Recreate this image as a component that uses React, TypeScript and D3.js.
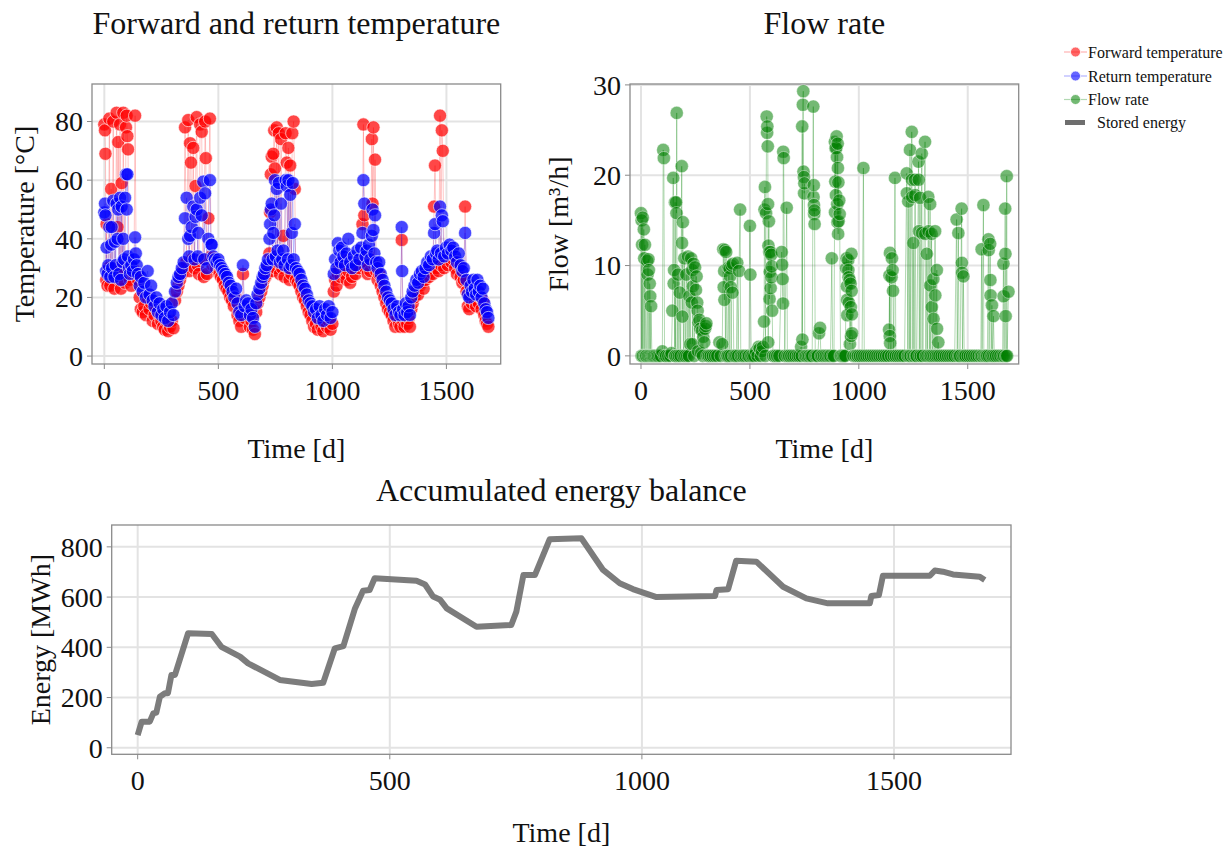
import React from 'react';
import * as d3 from 'd3';

type P = [number, number];

const TIME_TICKS = [0, 500, 1000, 1500];
const TEMP_TICKS = [0, 20, 40, 60, 80];
const FLOW_TICKS = [0, 10, 20, 30];
const ENERGY_TICKS = [0, 200, 400, 600, 800];

const TITLES = ['Forward and return temperature', 'Flow rate', 'Accumulated energy balance'];
const LEGEND = ['Forward temperature', 'Return temperature', 'Flow rate', 'Stored energy'];

const FORWARD: P[] = [
  [0,79],[3,77],[5,69],[8,26],[10,45],[14,24],[18,30],[22,81],[26,24],[30,57],[34,28],[39,80],[44,23],[48,30],[54,83],[58,44],[61,73],[65,26],[69,79],[73,23],[76,59],[80,28],[83,83],[87,30],[91,25],[95,78],[98,82],[101,75],[104,70.5],[108,27],[112,26],[118,24],[125,30],[130,28],[135,82],[140,28],[148,26],[155,20],[160,16],[168,15],[175,17],[182,14],[190,20],[198,16],[205,18],[212,12],[220,14],[228,16],[235,11],[242,14],[250,12],[258,10],[265,9],[272,12],[280,8.5],[288,10],[296,12],[303,9.5],[310,19],[318,22],[325,24],[332,26],[340,28],[348,30],[354,78],[360,32],[368,80.5],[372,29],[376,72.6],[380,66],[384,33],[390,71],[395,30],[400,58],[405,81.5],[410,31],[415,28],[420,79],[427,76.5],[432,33],[436,27],[442,80],[445,67.5],[450,28],[456,47],[463,81],[468,34],[475,31],[482,32],[490,30],[498,31],[505,28],[512,27],[520,26],[528,24],[536,23],[544,22],[552,20],[560,19],[568,17],[576,20],[584,14],[592,12],[600,10],[608,28],[615,13],[622,15],[630,14],[638,10],[645,12],[652,9],[660,7.5],[666,15],[672,18],[680,20],[688,22],[694,24],[700,26],[706,27],[712,28],[718,30],[724,35],[727,49],[730,62],[734,68],[738,29],[741,69],[745,77],[748,64],[752,30],[756,78],[760,32],[765,76],[770,28],[775,74],[780,30],[785,41],[790,27],[795,76],[800,66],[805,30],[807,71],[812,26],[815,65],[820,28],[824,76],[830,80],[835,57],[840,26],[848,25],[856,24],[864,22],[872,20],[880,19],[888,17],[896,15],[904,14],[912,12],[920,10],[928,11],[936,9],[944,12],[952,10],[960,8.5],[968,11],[976,10],[984,12],[992,9],[1000,11],[1006,22],[1012,26],[1018,24],[1024,28],[1030,30],[1036,27],[1042,33],[1048,30],[1055,28],[1062,26],[1070,29],[1078,25],[1086,27],[1094,30],[1102,28],[1110,32],[1118,30],[1126,33],[1132,45],[1136,79],[1140,48],[1145,30],[1150,32],[1155,28],[1160,34],[1166,29],[1173,74],[1176,52],[1180,78],[1184,31],[1187,67],[1192,29],[1198,26],[1205,28],[1212,24],[1220,22],[1228,20],[1236,18],[1244,16],[1252,15],[1260,14],[1268,12],[1276,10],[1284,13],[1292,11],[1298,10],[1304,39.6],[1310,12],[1316,10],[1322,14],[1328,11],[1334,13],[1340,10],[1346,16],[1352,18],[1360,20],[1368,22],[1376,21],[1384,24],[1392,25],[1400,23],[1408,26],[1416,28],[1424,27],[1432,30],[1440,28],[1446,51],[1450,65],[1455,30],[1460,32],[1466,29],[1472,82],[1476,31],[1480,77],[1484,70],[1490,30],[1498,33],[1506,31],[1514,34],[1522,32],[1530,33],[1538,30],[1546,28],[1554,31],[1562,27],[1570,25],[1576,26],[1582,51],[1588,22],[1594,17],[1600,16],[1606,20],[1612,18],[1618,22],[1624,19],[1630,17],[1636,22],[1642,18],[1648,20],[1654,16],[1660,19],[1666,14],[1672,12],[1678,11],[1684,10]
];

const RETURN: P[] = [
  [0,49],[3,52],[5,48],[8,29],[10,37],[14,28],[18,31],[22,44],[26,27],[30,38],[32,44],[34,30],[39,53],[44,27],[47,39],[50,31],[54,52],[58,40],[61,50],[65,28],[69,54],[73,26],[76,51],[80,32],[83,40],[87,33],[91,54],[95,62],[98,50],[101,62],[104,34],[108,30],[112,28],[118,31],[125,29],[130,33],[135,40.5],[138,35],[142,31],[148,28],[155,24],[160,27],[168,22],[175,25],[182,20],[190,29],[198,21],[205,24],[212,19],[220,17],[228,20],[235,15],[242,18],[250,14],[258,16],[265,13],[272,17],[280,12],[288,15],[296,18],[303,14],[310,22],[318,25],[325,27],[332,28],[340,30],[348,32],[354,47],[361,54],[368,40],[372,34],[376,41],[383,44],[390,51],[395,33],[400,47.5],[405,50],[410,34],[412,42],[420,54],[427,48],[434,59.5],[438,33],[442,55.5],[450,30],[456,40],[463,60],[468,38],[471,38],[478,34],[485,33],[492,32],[500,33],[508,31],[515,30],[522,29],[530,28],[538,27],[546,25],[554,24],[562,22],[570,20],[578,23],[584,18],[592,15],[600,14],[608,31],[615,17],[622,19],[630,18],[638,14],[645,16],[652,13],[660,10],[666,18],[672,21],[680,23],[688,25],[694,27],[700,28],[706,30],[712,31],[718,33],[724,40],[727,45],[730,50],[734,52],[738,33],[741,42],[745,48],[748,60],[752,34],[756,57],[760,36],[765,59],[770,32],[775,52],[780,33],[785,36],[790,31],[795,60],[800,58],[805,33],[807,60],[812,30],[815,55],[820,31],[822,42],[826,59],[830,33],[835,45],[840,30],[848,29],[856,28],[864,26],[872,24],[880,23],[888,21],[896,19],[904,18],[912,17],[920,15],[928,16],[936,13],[944,17],[952,14],[960,12],[968,16],[976,14],[984,17],[992,13],[1000,15],[1006,28],[1012,33],[1018,30],[1024,38.5],[1030,36],[1036,32],[1042,37],[1048,34],[1055,31],[1062,35],[1070,40],[1078,32],[1086,30],[1094,34],[1102,31],[1110,36],[1118,33],[1126,37],[1132,42],[1136,60],[1140,52],[1145,34],[1150,36],[1155,31],[1160,38],[1166,33],[1173,41],[1176,50],[1180,43],[1184,35],[1187,48],[1192,32],[1198,30],[1205,32],[1212,28],[1220,26],[1228,24],[1236,22],[1244,20],[1252,19],[1260,18],[1268,16],[1276,14],[1284,17],[1292,15],[1298,14],[1304,44],[1306,29],[1310,16],[1316,14],[1322,18],[1328,15],[1334,17],[1340,14],[1346,20],[1352,22],[1360,24],[1368,26],[1376,25],[1384,28],[1392,29],[1400,27],[1408,30],[1416,32],[1424,31],[1432,34],[1440,33],[1446,42],[1450,45],[1455,35],[1460,36],[1466,33],[1472,51],[1476,35],[1480,48],[1484,46],[1490,34],[1498,37],[1506,35],[1514,38],[1522,36],[1530,37],[1538,34],[1546,32],[1554,35],[1562,31],[1570,29],[1576,30],[1582,42],[1588,26],[1594,21],[1600,20],[1606,24],[1612,22],[1618,26],[1624,23],[1630,21],[1636,26],[1642,22],[1648,24],[1654,20],[1660,23],[1666,18],[1672,16],[1678,15],[1684,13]
];

const FLOW: P[] = [
  [0,15.8],[2,0],[3,15],[5,12.3],[6,0],[8,15.3],[10,0],[13,14],[15,10.8],[17,0],[18,12.3],[22,0],[25,0],[28,10.5],[30,9],[32,0],[34,10.7],[36,9.5],[38,0],[40,8],[42,6.6],[44,0],[46,5.5],[50,0],[55,0],[60,0],[66,0],[72,0],[78,0],[85,0],[92,0],[98,0.5],[102,22.8],[105,21.9],[108,0],[115,0],[125,0],[135,0],[140,0.3],[144,5],[148,19.7],[150,8],[152,9.5],[155,0],[156,17],[158,0],[161,17],[163,15.8],[164,26.9],[166,0],[170,9],[174,0],[178,7],[182,0],[187,21],[188,12.5],[190,4.35],[192,14.8],[195,0],[199,10.8],[203,0],[208,9],[212,0],[216,11],[220,0],[222,6.6],[226,1.3],[230,10.8],[233,5.9],[235,9.5],[236,1.3],[238,7.7],[241,10.2],[244,0],[248,9.8],[252,7.3],[255,8.8],[258,5.9],[260,5],[262,0.5],[264,3.7],[268,4],[272,3],[276,0.3],[280,2.8],[284,0],[286,2.1],[290,1.5],[294,3],[297,3.3],[300,3.6],[305,0],[312,0],[320,0],[330,0],[340,0],[350,0],[360,1.5],[366,0],[373,1.3],[378,11.8],[380,7.6],[382,9.4],[383,6.2],[385,11.7],[388,0],[391,11.5],[395,0],[398,0],[402,9.8],[405,0],[407,9.7],[409,8.8],[412,7.6],[414,0],[416,10],[420,7],[422,10.2],[426,0],[432,0],[438,0],[442,10.3],[446,0],[450,9.4],[455,16.2],[458,0],[465,0],[472,0],[480,0],[490,0],[496,0],[500,14.4],[502,9],[506,0],[512,0],[520,0],[528,0.5],[535,0],[540,1],[545,0.8],[550,0],[555,0.5],[560,1],[565,3.8],[567,16.2],[569,18.7],[571,0],[574,15.8],[577,26.5],[579,24.7],[580,25.4],[582,23.2],[583,16.8],[584,1.5],[585,12.2],[587,14.9],[589,11.5],[590,6.3],[591,9.3],[594,11.5],[595,7.5],[598,11.2],[599,8.7],[600,9.9],[602,5],[606,0],[615,0],[625,0],[635,0],[646,11.5],[648,10.1],[650,8.5],[652,5.8],[653,22.6],[655,21.9],[660,0],[669,16.4],[672,0],[680,0],[690,0],[700,0],[710,0],[720,0],[728,0],[735,1],[738,0],[740,25.4],[741,1.8],[743,27.8],[745,29.3],[746,20.4],[748,19.8],[749,18],[750,19.1],[752,0],[758,0],[765,0],[772,0],[780,0],[786,0],[791,27.6],[792,17.6],[793,18.9],[794,16.7],[795,15.7],[796,16.1],[797,14.6],[800,0],[806,0],[812,0],[817,2.5],[822,3.1],[826,0],[832,0],[840,0],[848,0],[856,0],[864,0],[870,0],[876,10.8],[880,0],[886,0],[890,23.7],[891,15.9],[892,19.3],[893,23],[895,17.8],[896,23],[898,24.3],[900,22],[901,16.8],[902,14.8],[903,23.5],[904,20.8],[905,13.5],[906,19.2],[907,14.9],[910,17.2],[912,15.7],[916,0],[920,0],[926,0],[932,0],[938,0],[942,9.7],[944,10.8],[945,7.7],[946,6.2],[947,4.5],[951,10.6],[952,9.5],[953,8.7],[954,5.9],[958,8.4],[959,1.3],[962,8],[963,5.4],[964,2.2],[966,11.3],[967,7.2],[968,4.6],[969,2.5],[975,0],[985,0],[995,0],[1005,0],[1015,0],[1021,20.8],[1025,0],[1035,0],[1045,0],[1055,0],[1065,0],[1075,0],[1085,0],[1095,0],[1105,0],[1115,0],[1125,0],[1135,0],[1139,2.9],[1141,8.9],[1142,2.2],[1143,11.4],[1144,1.4],[1148,0],[1150,8.7],[1152,10.8],[1155,9.5],[1157,7.2],[1160,0],[1166,19.7],[1170,0],[1180,0],[1190,0],[1200,0],[1210,0],[1220,20.2],[1221,18],[1225,0],[1227,17.1],[1232,0],[1235,22.8],[1238,0],[1243,24.8],[1244,19.5],[1245,17.6],[1248,0],[1250,12.5],[1254,0],[1258,19.5],[1259,17.8],[1262,0],[1266,0],[1274,21.5],[1275,19.5],[1276,13.8],[1278,0],[1281,17.5],[1285,0],[1289,22.4],[1290,13.6],[1294,0],[1304,23.7],[1305,13.5],[1308,0],[1312,11.3],[1315,0],[1319,17.6],[1320,13.8],[1324,0],[1327,16.8],[1328,7.8],[1330,0],[1334,13.5],[1335,5.4],[1338,0],[1342,8.5],[1343,4.1],[1346,0],[1350,13.8],[1351,6.7],[1354,0],[1358,9.5],[1359,3],[1362,0],[1365,1.5],[1370,0],[1380,0],[1390,0],[1400,0],[1410,0],[1420,0],[1430,0],[1440,0],[1449,15.1],[1452,0],[1457,13.6],[1460,0],[1465,0],[1472,16.3],[1473,10.3],[1474,9.2],[1476,0],[1480,8.8],[1484,0],[1490,0],[1500,0],[1510,0],[1520,0],[1530,0],[1540,0],[1550,0],[1560,0],[1564,11.8],[1566,0],[1572,16.7],[1574,0],[1580,0],[1586,0],[1590,0],[1595,12.9],[1596,11.7],[1598,0],[1603,12.4],[1604,8.4],[1605,6.7],[1608,0],[1611,5.6],[1614,0],[1618,4.4],[1622,0],[1630,0],[1640,0],[1650,0],[1660,0],[1664,10.2],[1665,6.6],[1667,0],[1672,16.3],[1673,11.3],[1674,4.4],[1676,0],[1679,19.9],[1681,0],[1687,7.1]
];

const ENERGY: P[] = [
  [0,50],[8,104],[24,104],[31,137],[37,140],[44,203],[54,217],[60,217],[67,290],[74,290],[100,456],[147,453],[166,402],[203,363],[219,336],[282,270],[345,254],[368,259],[391,396],[408,405],[431,555],[447,625],[460,628],[470,675],[553,665],[570,650],[586,602],[600,589],[613,555],[672,482],[741,489],[751,542],[765,688],[788,688],[817,830],[880,834],[923,708],[956,655],[982,632],[1029,600],[1145,604],[1148,628],[1171,631],[1187,745],[1227,741],[1280,641],[1326,595],[1369,575],[1452,575],[1455,604],[1470,608],[1478,685],[1571,685],[1581,706],[1597,701],[1617,690],[1670,681],[1680,668]
];

const FONT = "'Liberation Serif', 'Times New Roman', Times, serif";
const GRID = '#e3e3e3';
const FRAME = '#8a8a8a';

type Frame = { l: number; r: number; t: number; b: number };

function Axes({ id, f, x, y, xTicks, yTicks }: { id: string; f: Frame; x: d3.ScaleLinear<number, number>; y: d3.ScaleLinear<number, number>; xTicks: number[]; yTicks: number[] }) {
  return (
    <g>
      <defs>
        <clipPath id={id}>
          <rect x={f.l} y={f.t} width={f.r - f.l} height={f.b - f.t} />
        </clipPath>
      </defs>
      {xTicks.map((t) => (
        <line key={'gx' + t} x1={x(t)} x2={x(t)} y1={f.t} y2={f.b} stroke={GRID} strokeWidth={2} />
      ))}
      {yTicks.map((t) => (
        <line key={'gy' + t} x1={f.l} x2={f.r} y1={y(t)} y2={y(t)} stroke={GRID} strokeWidth={2} />
      ))}
      <rect x={f.l} y={f.t} width={f.r - f.l} height={f.b - f.t} fill="none" stroke={FRAME} strokeWidth={1.3} />
      {xTicks.map((t) => (
        <g key={'tx' + t}>
          <line x1={x(t)} x2={x(t)} y1={f.b} y2={f.b + 5} stroke={FRAME} strokeWidth={1} />
          <text x={x(t)} y={f.b + 36} textAnchor="middle" fontSize={28} fontFamily={FONT} fill="#111">{t}</text>
        </g>
      ))}
      {yTicks.map((t) => (
        <g key={'ty' + t}>
          <line x1={f.l - 5} x2={f.l} y1={y(t)} y2={y(t)} stroke={FRAME} strokeWidth={1} />
          <text x={f.l - 9} y={y(t)} dy="0.35em" textAnchor="end" fontSize={28} fontFamily={FONT} fill="#111">{t}</text>
        </g>
      ))}
    </g>
  );
}

export default function App() {
  const f1: Frame = { l: 92, r: 500.7, t: 84, b: 364 };
  const f2: Frame = { l: 630, r: 1018.7, t: 84, b: 364 };
  const f3: Frame = { l: 111.7, r: 1011, t: 525, b: 754.3 };

  const x1 = d3.scaleLinear().domain([-54, 1738]).range([f1.l, f1.r]);
  const y1 = d3.scaleLinear().domain([-2.7, 92.8]).range([f1.b, f1.t]);
  const x2 = d3.scaleLinear().domain([-50.5, 1734]).range([f2.l, f2.r]);
  const y2 = d3.scaleLinear().domain([-0.9, 30.1]).range([f2.b, f2.t]);
  const x3 = d3.scaleLinear().domain([-51.5, 1732]).range([f3.l, f3.r]);
  const y3 = d3.scaleLinear().domain([-26, 887]).range([f3.b, f3.t]);

  const l1 = d3.line<P>().x((d) => x1(d[0])).y((d) => y1(d[1]));
  const l2 = d3.line<P>().x((d) => x2(d[0])).y((d) => y2(d[1]));
  const l3 = d3.line<P>().x((d) => x3(d[0])).y((d) => y3(d[1]));

  const R = 6.6;
  const txt = { fontFamily: FONT, fill: '#111' } as const;

  const legendY = [52, 76, 99.5, 122.5];
  const legendColors = ['red', 'blue', 'green'];

  return (
    <svg width={1231} height={848} style={{ position: 'absolute', left: 0, top: 0, background: '#fff' }}>
      <rect x={0} y={0} width={1231} height={848} fill="#fff" />
      {/* Titles */}
      <text x={(f1.l + f1.r) / 2} y={34} textAnchor="middle" fontSize={32} {...txt}>{TITLES[0]}</text>
      <text x={(f2.l + f2.r) / 2} y={34} textAnchor="middle" fontSize={32} {...txt}>{TITLES[1]}</text>
      <text x={(f3.l + f3.r) / 2} y={501} textAnchor="middle" fontSize={32} {...txt}>{TITLES[2]}</text>

      {/* Panel 1 */}
      <Axes id="c1" f={f1} x={x1} y={y1} xTicks={TIME_TICKS} yTicks={TEMP_TICKS} />
      <g clipPath="url(#c1)">
        <path d={l1(FORWARD) || ''} fill="none" stroke="red" strokeOpacity={0.22} strokeWidth={1} />
        {FORWARD.map((d, i) => (
          <circle key={'f' + i} cx={x1(d[0])} cy={y1(d[1])} r={R} fill="red" fillOpacity={0.72} stroke="#fff" strokeOpacity={0.6} strokeWidth={1} />
        ))}
        <path d={l1(RETURN) || ''} fill="none" stroke="blue" strokeOpacity={0.22} strokeWidth={1} />
        {RETURN.map((d, i) => (
          <circle key={'r' + i} cx={x1(d[0])} cy={y1(d[1])} r={R} fill="blue" fillOpacity={0.72} stroke="#fff" strokeOpacity={0.6} strokeWidth={1} />
        ))}
      </g>
      <text x={f1.l + (f1.r - f1.l) / 2} y={458} textAnchor="middle" fontSize={28} {...txt}>Time [d]</text>
      <text transform={`translate(24,${(f1.t + f1.b) / 2}) rotate(-90)`} textAnchor="middle" dy="0.35em" fontSize={28} {...txt}>Temperature [°C]</text>

      {/* Panel 2 */}
      <Axes id="c2" f={f2} x={x2} y={y2} xTicks={TIME_TICKS} yTicks={FLOW_TICKS} />
      <g clipPath="url(#c2)">
        <path d={l2(FLOW) || ''} fill="none" stroke="green" strokeOpacity={0.3} strokeWidth={1} />
        {FLOW.map((d, i) => (
          <circle key={'q' + i} cx={x2(d[0])} cy={y2(d[1])} r={R} fill="green" fillOpacity={0.55} stroke="#fff" strokeOpacity={0.4} strokeWidth={1} />
        ))}
      </g>
      <text x={(f2.l + f2.r) / 2} y={458} textAnchor="middle" fontSize={28} {...txt}>Time [d]</text>
      <text transform={`translate(558,${(f2.t + f2.b) / 2}) rotate(-90)`} textAnchor="middle" dy="0.35em" fontSize={28} {...txt}>Flow [m³/h]</text>

      {/* Panel 3 */}
      <Axes id="c3" f={f3} x={x3} y={y3} xTicks={TIME_TICKS} yTicks={ENERGY_TICKS} />
      <g clipPath="url(#c3)">
        <path d={l3(ENERGY) || ''} fill="none" stroke="#6e6e6e" strokeOpacity={0.9} strokeWidth={6} strokeLinejoin="round" />
      </g>
      <text x={(f3.l + f3.r) / 2} y={842} textAnchor="middle" fontSize={28} {...txt}>Time [d]</text>
      <text transform={`translate(40,${(f3.t + f3.b) / 2}) rotate(-90)`} textAnchor="middle" dy="0.35em" fontSize={28} {...txt}>Energy [MWh]</text>

      {/* Legend */}
      {legendColors.map((c, i) => (
        <g key={'lg' + i}>
          <line x1={1064} x2={1087} y1={legendY[i]} y2={legendY[i]} stroke={c} strokeOpacity={0.3} strokeWidth={1.2} />
          <circle cx={1075.5} cy={legendY[i]} r={5} fill={c} fillOpacity={c === 'green' ? 0.55 : 0.6} stroke="#fff" strokeWidth={0.8} />
          <text x={1088} y={legendY[i]} dy="0.35em" fontSize={16} {...txt}>{LEGEND[i]}</text>
        </g>
      ))}
      <line x1={1065} x2={1085} y1={legendY[3]} y2={legendY[3]} stroke="#6e6e6e" strokeWidth={5} />
      <text x={1097} y={legendY[3]} dy="0.35em" fontSize={16} {...txt}>{LEGEND[3]}</text>
    </svg>
  );
}
